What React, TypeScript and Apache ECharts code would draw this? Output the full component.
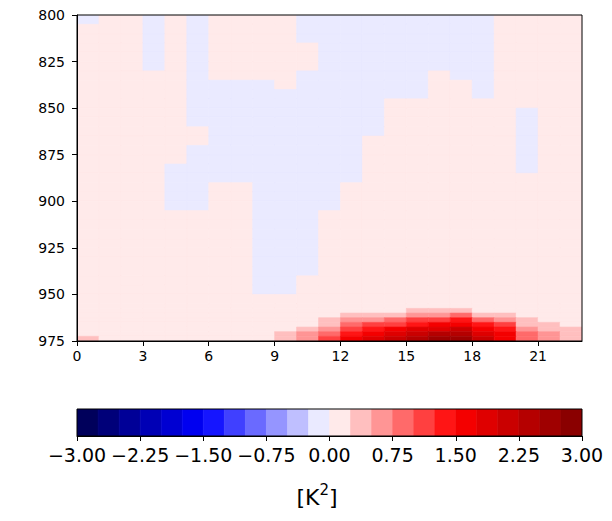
import React, { useEffect, useRef } from "react";
import * as echarts from "echarts";

// Column edges (hour of day) and pressure-band edges (hPa)
const hourEdges = [0, 1, 2, 3, 4, 5, 6, 7, 8, 9, 10, 11, 12, 13, 14, 15, 16, 17, 18, 19, 20, 21, 22, 23];
const pressureEdges = [
  800, 805, 810, 815, 820, 825, 830, 835, 840, 845, 850, 855, 860, 865, 870, 875, 880, 885, 890, 895,
  900, 905, 910, 915, 920, 925, 930, 935, 940, 945, 950, 955, 957.5, 960, 962.5, 965, 967.5, 970, 972.5, 975,
];
const levels = [
  -3, -2.75, -2.5, -2.25, -2, -1.75, -1.5, -1.25, -1, -0.75, -0.5, -0.25, 0, 0.25, 0.5, 0.75, 1, 1.25, 1.5,
  1.75, 2, 2.25, 2.5, 2.75, 3,
];
const xTicks = [0, 3, 6, 9, 12, 15, 18, 21];
const yTicks = [800, 825, 850, 875, 900, 925, 950, 975];
const cbTicks = [-3, -2.25, -1.5, -0.75, 0, 0.75, 1.5, 2.25, 3];

// field[row][col]: row = pressure band (top->bottom), col = hour column
const field = [
  [-0.1, 0.1, 0.1, -0.1, 0.1, -0.1, 0.1, 0.1, 0.1, 0.1, -0.1, -0.1, -0.1, -0.1, -0.1, -0.1, -0.1, -0.1, -0.1, 0.1, 0.1, 0.1, 0.1],
  [0.1, 0.1, 0.1, -0.1, 0.1, -0.1, 0.1, 0.1, 0.1, 0.1, -0.1, -0.1, -0.1, -0.1, -0.1, -0.1, -0.1, -0.1, -0.1, 0.1, 0.1, 0.1, 0.1],
  [0.1, 0.1, 0.1, -0.1, 0.1, -0.1, 0.1, 0.1, 0.1, 0.1, -0.1, -0.1, -0.1, -0.1, -0.1, -0.1, -0.1, -0.1, -0.1, 0.1, 0.1, 0.1, 0.1],
  [0.1, 0.1, 0.1, -0.1, 0.1, -0.1, 0.1, 0.1, 0.1, 0.1, 0.1, -0.1, -0.1, -0.1, -0.1, -0.1, -0.1, -0.1, -0.1, 0.1, 0.1, 0.1, 0.1],
  [0.1, 0.1, 0.1, -0.1, 0.1, -0.1, 0.1, 0.1, 0.1, 0.1, 0.1, -0.1, -0.1, -0.1, -0.1, -0.1, -0.1, -0.1, -0.1, 0.1, 0.1, 0.1, 0.1],
  [0.1, 0.1, 0.1, -0.1, 0.1, -0.1, 0.1, 0.1, 0.1, 0.1, 0.1, -0.1, -0.1, -0.1, -0.1, -0.1, -0.1, -0.1, -0.1, 0.1, 0.1, 0.1, 0.1],
  [0.1, 0.1, 0.1, 0.1, 0.1, -0.1, 0.1, 0.1, 0.1, 0.1, -0.1, -0.1, -0.1, -0.1, -0.1, -0.1, 0.1, -0.1, -0.1, 0.1, 0.1, 0.1, 0.1],
  [0.1, 0.1, 0.1, 0.1, 0.1, -0.1, -0.1, -0.1, -0.1, 0.1, -0.1, -0.1, -0.1, -0.1, -0.1, -0.1, 0.1, 0.1, -0.1, 0.1, 0.1, 0.1, 0.1],
  [0.1, 0.1, 0.1, 0.1, 0.1, -0.1, -0.1, -0.1, -0.1, -0.1, -0.1, -0.1, -0.1, -0.1, -0.1, -0.1, 0.1, 0.1, -0.1, 0.1, 0.1, 0.1, 0.1],
  [0.1, 0.1, 0.1, 0.1, 0.1, -0.1, -0.1, -0.1, -0.1, -0.1, -0.1, -0.1, -0.1, -0.1, 0.1, 0.1, 0.1, 0.1, 0.1, 0.1, 0.1, 0.1, 0.1],
  [0.1, 0.1, 0.1, 0.1, 0.1, -0.1, -0.1, -0.1, -0.1, -0.1, -0.1, -0.1, -0.1, -0.1, 0.1, 0.1, 0.1, 0.1, 0.1, 0.1, -0.1, 0.1, 0.1],
  [0.1, 0.1, 0.1, 0.1, 0.1, -0.1, -0.1, -0.1, -0.1, -0.1, -0.1, -0.1, -0.1, -0.1, 0.1, 0.1, 0.1, 0.1, 0.1, 0.1, -0.1, 0.1, 0.1],
  [0.1, 0.1, 0.1, 0.1, 0.1, 0.1, -0.1, -0.1, -0.1, -0.1, -0.1, -0.1, -0.1, -0.1, 0.1, 0.1, 0.1, 0.1, 0.1, 0.1, -0.1, 0.1, 0.1],
  [0.1, 0.1, 0.1, 0.1, 0.1, 0.1, -0.1, -0.1, -0.1, -0.1, -0.1, -0.1, -0.1, 0.1, 0.1, 0.1, 0.1, 0.1, 0.1, 0.1, -0.1, 0.1, 0.1],
  [0.1, 0.1, 0.1, 0.1, 0.1, -0.1, -0.1, -0.1, -0.1, -0.1, -0.1, -0.1, -0.1, 0.1, 0.1, 0.1, 0.1, 0.1, 0.1, 0.1, -0.1, 0.1, 0.1],
  [0.1, 0.1, 0.1, 0.1, 0.1, -0.1, -0.1, -0.1, -0.1, -0.1, -0.1, -0.1, -0.1, 0.1, 0.1, 0.1, 0.1, 0.1, 0.1, 0.1, -0.1, 0.1, 0.1],
  [0.1, 0.1, 0.1, 0.1, -0.1, -0.1, -0.1, -0.1, -0.1, -0.1, -0.1, -0.1, -0.1, 0.1, 0.1, 0.1, 0.1, 0.1, 0.1, 0.1, -0.1, 0.1, 0.1],
  [0.1, 0.1, 0.1, 0.1, -0.1, -0.1, -0.1, -0.1, -0.1, -0.1, -0.1, -0.1, -0.1, 0.1, 0.1, 0.1, 0.1, 0.1, 0.1, 0.1, 0.1, 0.1, 0.1],
  [0.1, 0.1, 0.1, 0.1, -0.1, -0.1, 0.1, 0.1, -0.1, -0.1, -0.1, -0.1, 0.1, 0.1, 0.1, 0.1, 0.1, 0.1, 0.1, 0.1, 0.1, 0.1, 0.1],
  [0.1, 0.1, 0.1, 0.1, -0.1, -0.1, 0.1, 0.1, -0.1, -0.1, -0.1, -0.1, 0.1, 0.1, 0.1, 0.1, 0.1, 0.1, 0.1, 0.1, 0.1, 0.1, 0.1],
  [0.1, 0.1, 0.1, 0.1, -0.1, -0.1, 0.1, 0.1, -0.1, -0.1, -0.1, -0.1, 0.1, 0.1, 0.1, 0.1, 0.1, 0.1, 0.1, 0.1, 0.1, 0.1, 0.1],
  [0.1, 0.1, 0.1, 0.1, 0.1, 0.1, 0.1, 0.1, -0.1, -0.1, -0.1, 0.1, 0.1, 0.1, 0.1, 0.1, 0.1, 0.1, 0.1, 0.1, 0.1, 0.1, 0.1],
  [0.1, 0.1, 0.1, 0.1, 0.1, 0.1, 0.1, 0.1, -0.1, -0.1, -0.1, 0.1, 0.1, 0.1, 0.1, 0.1, 0.1, 0.1, 0.1, 0.1, 0.1, 0.1, 0.1],
  [0.1, 0.1, 0.1, 0.1, 0.1, 0.1, 0.1, 0.1, -0.1, -0.1, -0.1, 0.1, 0.1, 0.1, 0.1, 0.1, 0.1, 0.1, 0.1, 0.1, 0.1, 0.1, 0.1],
  [0.1, 0.1, 0.1, 0.1, 0.1, 0.1, 0.1, 0.1, -0.1, -0.1, -0.1, 0.1, 0.1, 0.1, 0.1, 0.1, 0.1, 0.1, 0.1, 0.1, 0.1, 0.1, 0.1],
  [0.1, 0.1, 0.1, 0.1, 0.1, 0.1, 0.1, 0.1, -0.1, -0.1, -0.1, 0.1, 0.1, 0.1, 0.1, 0.1, 0.1, 0.1, 0.1, 0.1, 0.1, 0.1, 0.1],
  [0.1, 0.1, 0.1, 0.1, 0.1, 0.1, 0.1, 0.1, -0.1, -0.1, -0.1, 0.1, 0.1, 0.1, 0.1, 0.1, 0.1, 0.1, 0.1, 0.1, 0.1, 0.1, 0.1],
  [0.1, 0.1, 0.1, 0.1, 0.1, 0.1, 0.1, 0.1, -0.1, -0.1, -0.1, 0.1, 0.1, 0.1, 0.1, 0.1, 0.1, 0.1, 0.1, 0.1, 0.1, 0.1, 0.1],
  [0.1, 0.1, 0.1, 0.1, 0.1, 0.1, 0.1, 0.1, -0.1, -0.1, 0.1, 0.1, 0.1, 0.1, 0.1, 0.1, 0.1, 0.1, 0.1, 0.1, 0.1, 0.1, 0.1],
  [0.1, 0.1, 0.1, 0.1, 0.1, 0.1, 0.1, 0.1, -0.1, -0.1, 0.1, 0.1, 0.1, 0.1, 0.1, 0.1, 0.1, 0.1, 0.1, 0.1, 0.1, 0.1, 0.1],
  [0.1, 0.1, 0.1, 0.1, 0.1, 0.1, 0.1, 0.1, 0.1, 0.1, 0.1, 0.1, 0.1, 0.1, 0.1, 0.1, 0.1, 0.1, 0.1, 0.1, 0.1, 0.1, 0.1],
  [0.1, 0.1, 0.1, 0.1, 0.1, 0.1, 0.1, 0.1, 0.1, 0.1, 0.1, 0.1, 0.1, 0.1, 0.1, 0.1, 0.1, 0.1, 0.1, 0.1, 0.1, 0.1, 0.1],
  [0.1, 0.1, 0.1, 0.1, 0.1, 0.1, 0.1, 0.1, 0.1, 0.1, 0.1, 0.1, 0.1, 0.1, 0.1, 0.4, 0.4, 0.4, 0.1, 0.1, 0.1, 0.1, 0.1],
  [0.1, 0.1, 0.1, 0.1, 0.1, 0.1, 0.1, 0.1, 0.1, 0.1, 0.1, 0.1, 0.4, 0.4, 0.4, 0.6, 0.6, 0.9, 0.4, 0.4, 0.1, 0.1, 0.1],
  [0.1, 0.1, 0.1, 0.1, 0.1, 0.1, 0.1, 0.1, 0.1, 0.1, 0.1, 0.4, 0.6, 0.6, 0.9, 1.1, 1.1, 1.4, 0.9, 0.6, 0.4, 0.1, 0.1],
  [0.1, 0.1, 0.1, 0.1, 0.1, 0.1, 0.1, 0.1, 0.1, 0.1, 0.1, 0.4, 0.9, 1.1, 1.1, 1.4, 1.6, 1.6, 1.4, 1.1, 0.4, 0.4, 0.1],
  [0.1, 0.1, 0.1, 0.1, 0.1, 0.1, 0.1, 0.1, 0.1, 0.1, 0.4, 0.6, 1.1, 1.4, 1.6, 1.9, 1.9, 2.1, 1.6, 1.4, 0.6, 0.4, 0.4],
  [0.1, 0.1, 0.1, 0.1, 0.1, 0.1, 0.1, 0.1, 0.1, 0.4, 0.6, 0.9, 1.4, 1.6, 1.9, 2.1, 2.4, 2.4, 1.9, 1.6, 0.9, 0.6, 0.4],
  [0.4, 0.1, 0.1, 0.1, 0.1, 0.1, 0.1, 0.1, 0.1, 0.4, 0.6, 1.1, 1.6, 1.9, 2.1, 2.4, 2.6, 2.6, 2.1, 1.6, 0.9, 0.6, 0.4],
];

function seismic(t: number): string {
  let r: number, g: number, b: number;
  if (t < 0.25) {
    r = 0; g = 0; b = 0.3 + (0.7 * t) / 0.25;
  } else if (t < 0.5) {
    r = (t - 0.25) / 0.25; g = r; b = 1;
  } else if (t < 0.75) {
    r = 1; g = 1 - (t - 0.5) / 0.25; b = g;
  } else {
    r = 1 - (0.5 * (t - 0.75)) / 0.25; g = 0; b = 0;
  }
  const c = (v: number) => Math.round(Math.max(0, Math.min(1, v)) * 255);
  return `rgb(${c(r)},${c(g)},${c(b)})`;
}

const vmin = levels[0];
const vmax = levels[levels.length - 1];
function bandColor(i: number): string {
  const mid = (levels[i] + levels[i + 1]) / 2;
  return seismic((mid - vmin) / (vmax - vmin));
}
function valueColor(v: number): string {
  for (let i = 0; i < levels.length - 1; i++) {
    if (v >= levels[i] && v < levels[i + 1]) return bandColor(i);
  }
  return v < vmin ? bandColor(0) : bandColor(levels.length - 2);
}

const FONT = "DejaVu Sans";

export default function App() {
  const ref = useRef<HTMLDivElement>(null);
  useEffect(() => {
    if (!ref.current) return;
    const chart = echarts.init(ref.current, undefined, { renderer: "svg" });

    const cells: number[][] = [];
    field.forEach((row, r) => {
      row.forEach((v, c) => {
        cells.push([hourEdges[c], hourEdges[c + 1], pressureEdges[r], pressureEdges[r + 1], v]);
      });
    });
    const cbData: number[][] = [];
    for (let i = 0; i < levels.length - 1; i++) cbData.push([levels[i], levels[i + 1], 0, 1, i]);

    const axisLine = { show: true, lineStyle: { color: "#000", width: 1 } };
    const axisTick = { show: true, length: 5, lineStyle: { color: "#000", width: 1 } };
    const label = { color: "#000", fontFamily: FONT, fontSize: 14 };

    const rectItem = (api: any, color: string) => {
      const p0 = api.coord([api.value(0), api.value(2)]);
      const p1 = api.coord([api.value(1), api.value(3)]);
      return {
        type: "rect",
        shape: {
          x: Math.min(p0[0], p1[0]),
          y: Math.min(p0[1], p1[1]),
          width: Math.abs(p1[0] - p0[0]),
          height: Math.abs(p1[1] - p0[1]),
        },
        style: { fill: color, stroke: color, lineWidth: 0.6 },
      };
    };

    chart.setOption({
      animation: false,
      backgroundColor: "#fff",
      grid: [
        { left: 77, top: 15, width: 505, height: 326, show: true, borderColor: "#000", borderWidth: 1, z: 5, backgroundColor: "transparent" },
        { left: 77, top: 409, width: 505, height: 27, show: true, borderColor: "#000", borderWidth: 1, z: 5, backgroundColor: "transparent" },
      ],
      xAxis: [
        {
          type: "value", gridIndex: 0, min: 0, max: 23, interval: 3,
          axisLine, splitLine: { show: false },
          axisTick: { ...axisTick, customValues: xTicks },
          axisLabel: { ...label, margin: 8, customValues: xTicks, formatter: (v: number) => String(v) },
          z: 6,
        },
        {
          type: "value", gridIndex: 1, min: vmin, max: vmax, interval: 0.75,
          axisLine, splitLine: { show: false },
          axisTick: { ...axisTick, customValues: cbTicks },
          axisLabel: {
            ...label, fontSize: 19, margin: 9, customValues: cbTicks,
            formatter: (v: number) => v.toFixed(2).replace("-", "\u2212"),
          },
          z: 6,
        },
      ],
      yAxis: [
        {
          type: "value", gridIndex: 0, min: 800, max: 975, interval: 25, inverse: true,
          axisLine, splitLine: { show: false },
          axisTick: { ...axisTick, customValues: yTicks },
          axisLabel: { ...label, margin: 12, customValues: yTicks },
          z: 6,
        },
        {
          type: "value", gridIndex: 1, min: 0, max: 1, show: false,
        },
      ],
      series: [
        {
          type: "custom",
          xAxisIndex: 0, yAxisIndex: 0,
          clip: true,
          encode: { x: [0, 1], y: [2, 3] },
          data: cells,
          renderItem: (_p: any, api: any) => rectItem(api, valueColor(api.value(4))),
          silent: true,
        },
        {
          type: "custom",
          xAxisIndex: 1, yAxisIndex: 1,
          clip: true,
          encode: { x: [0, 1], y: [2, 3] },
          data: cbData,
          renderItem: (_p: any, api: any) => rectItem(api, bandColor(api.value(4))),
          silent: true,
        },
      ],
      graphic: [
        {
          type: "text",
          x: 317, y: 495,
          style: {
            text: "{a|[K}{s|2}{a|]}",
            fill: "#000",
            textAlign: "center",
            textVerticalAlign: "middle",
            rich: {
              a: { fontFamily: FONT, fontSize: 22, fill: "#000", verticalAlign: "bottom", lineHeight: 26 },
              s: { fontFamily: FONT, fontSize: 15, fill: "#000", verticalAlign: "top", lineHeight: 26 },
            },
          },
        },
      ],
    });
    return () => chart.dispose();
  }, []);
  return <div ref={ref} style={{ position: "fixed", left: 0, top: 0, width: 612, height: 521 }} />;
}
